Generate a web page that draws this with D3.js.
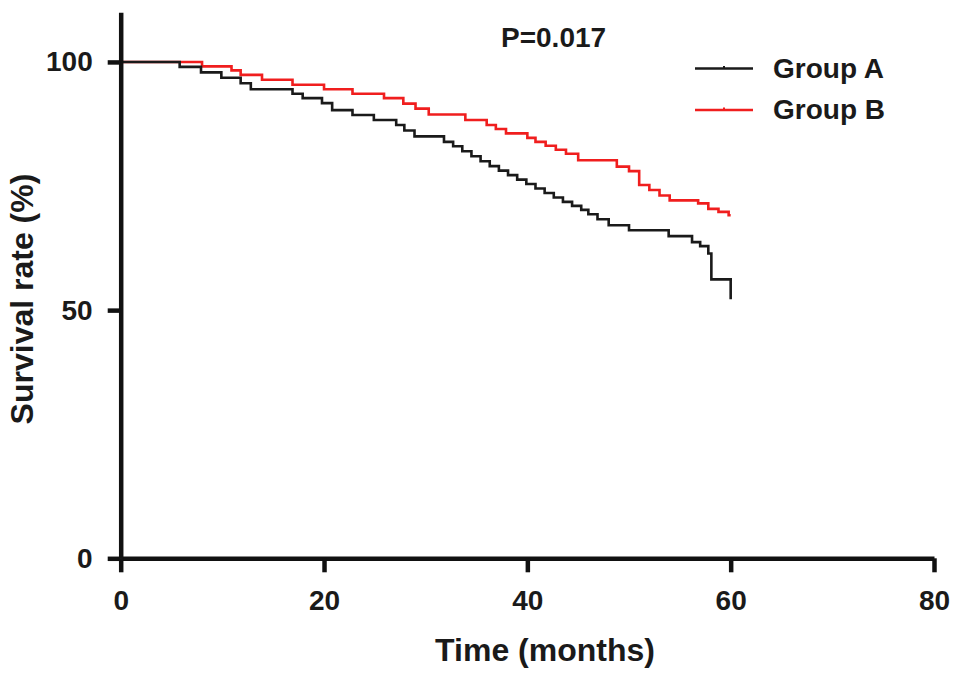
<!DOCTYPE html>
<html>
<head>
<meta charset="utf-8">
<script src="https://cdn.jsdelivr.net/npm/d3@7"></script>
<style>
  body { margin: 0; background: #fff; }
  text { font-family: "Liberation Sans", Arial, sans-serif; font-weight: bold; fill: #1a1a1a; }
</style>
</head>
<body>
<svg id="chart"></svg>
<script>
// Kaplan-Meier step points (months, survival %)
const groupATime = [0, 5.8, 7.9, 9.9, 11.8, 12.8, 16.9, 17.9, 19.8, 20.8, 22.8, 24.9, 27.1, 27.9, 28.9,
  31.8, 32.7, 33.6, 34.5, 35.4, 36.3, 37.2, 38.1, 39.0, 39.9, 40.8, 41.7, 42.6, 43.5, 44.4, 45.3,
  46.0, 46.9, 48.0, 50.0, 53.9, 56.2, 57.0, 57.8, 58.1, 60.0];
const groupASurv = [100, 99.0, 97.9, 96.8, 95.7, 94.5, 93.6, 92.7, 91.7, 90.3, 89.3, 88.3, 87.3, 86.2, 85.0,
  83.9, 83.0, 82.0, 81.0, 80.0, 79.0, 78.1, 77.2, 76.3, 75.4, 74.5, 73.6, 72.7, 71.8, 71.0, 70.2,
  69.3, 68.3, 67.1, 66.1, 64.9, 63.7, 62.9, 61.4, 56.2, 52.2];

const groupBTime = [0, 8.0, 10.9, 11.8, 13.9, 16.9, 20.0, 22.8, 25.9, 27.8, 29.0, 30.3, 33.9, 36.0, 36.9,
  37.9, 40.0, 40.8, 41.8, 42.8, 43.8, 45.0, 48.8, 50.0, 51.0, 52.0, 53.0, 54.0, 56.8, 57.8, 58.8, 59.8, 60.0];
const groupBSurv = [100, 99.1, 98.3, 97.4, 96.4, 95.4, 94.5, 93.6, 92.7, 91.6, 90.6, 89.4, 88.3, 87.3, 86.5,
  85.6, 84.7, 83.9, 83.1, 82.3, 81.5, 80.2, 78.9, 78.0, 75.2, 74.2, 73.1, 72.1, 71.5, 70.4, 69.8, 69.1, 69.1];

const xTicks = [0, 20, 40, 60, 80];
const yTicks = [0, 50, 100];
const groupNames = ["Group A", "Group B"];
const groupColors = ["#1a1a1a", "#f01e1e"];

// Set up dimensions and margins
const margin = { top: 12.3, right: 35, bottom: 119.7, left: 120.7 };
const width = 969 - margin.left - margin.right;
const height = 678 - margin.top - margin.bottom;

const root = d3.select("#chart")
    .attr("width", width + margin.left + margin.right)
    .attr("height", height + margin.top + margin.bottom);

const svg = root.append("g")
    .attr("transform", `translate(${margin.left},${margin.top})`);

const x = d3.scaleLinear().domain([0, 80]).range([0, width]);
const y = d3.scaleLinear().domain([0, 110]).range([height, 0]);

const line = d3.line()
    .x(d => x(d.t))
    .y(d => y(d.s))
    .curve(d3.curveStepAfter);

const series = [
    groupBTime.map((t, i) => ({ t, s: groupBSurv[i] })),
    groupATime.map((t, i) => ({ t, s: groupASurv[i] }))
];

// Curves (B first so A sits on top where they overlap)
svg.selectAll(".curve")
    .data(series)
    .enter()
    .append("path")
    .attr("class", "curve")
    .attr("d", line)
    .attr("fill", "none")
    .attr("stroke", (d, i) => groupColors[1 - i])
    .attr("stroke-width", 2.6);

// X-axis
const xAxis = svg.append("g")
    .attr("transform", `translate(0,${height})`)
    .call(d3.axisBottom(x).tickValues(xTicks).tickSize(14).tickSizeOuter(0).tickPadding(18));

// Y-axis
const yAxis = svg.append("g")
    .call(d3.axisLeft(y).tickValues(yTicks).tickSize(13).tickSizeOuter(0).tickPadding(15));

[xAxis, yAxis].forEach(ax => {
    ax.select(".domain").attr("stroke", "#111").attr("stroke-width", 4.5);
    ax.selectAll(".tick line").attr("stroke", "#111").attr("stroke-width", 4.5);
    ax.selectAll(".tick text")
        .style("font-family", "'Liberation Sans', Arial, sans-serif")
        .style("font-weight", "bold")
        .style("font-size", "28px")
        .attr("fill", "#1a1a1a");
});

// Axis titles
root.append("text")
    .attr("x", 545)
    .attr("y", 661)
    .attr("text-anchor", "middle")
    .style("font-size", "32px")
    .text("Time (months)");

root.append("text")
    .attr("transform", "translate(33,299) rotate(-90)")
    .attr("text-anchor", "middle")
    .style("font-size", "32px")
    .text("Survival rate (%)");

// P value
root.append("text")
    .attr("x", 501)
    .attr("y", 47)
    .style("font-size", "28px")
    .text("P=0.017");

// Legend
const legendY = [68.5, 110];
const legend = root.selectAll(".legend")
    .data(groupNames)
    .enter()
    .append("g")
    .attr("class", "legend")
    .attr("transform", (d, i) => `translate(695,${legendY[i]})`);

legend.append("line")
    .attr("x1", 0).attr("x2", 58)
    .attr("stroke", (d, i) => groupColors[i])
    .attr("stroke-width", 2.4);

legend.append("line")
    .attr("x1", 29).attr("x2", 29)
    .attr("y1", -2.5).attr("y2", 0)
    .attr("stroke", (d, i) => groupColors[i])
    .attr("stroke-width", 2);

legend.append("text")
    .attr("x", 78)
    .attr("y", 9)
    .style("font-size", "28px")
    .text(d => d);
</script>
</body>
</html>
